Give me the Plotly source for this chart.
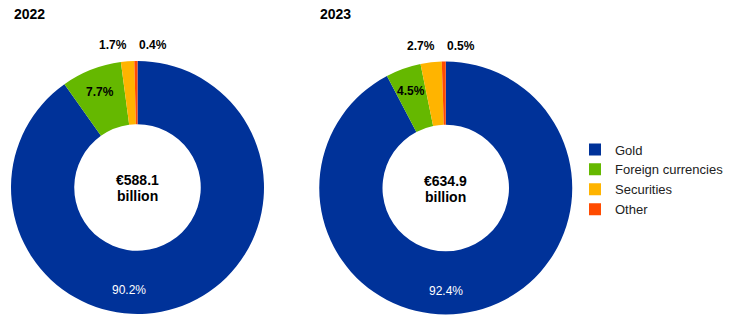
import math
import plotly.graph_objects as go

categories = ["Gold", "Foreign currencies", "Securities", "Other"]
values_2022 = [90.2, 7.7, 1.7, 0.4]
values_2023 = [92.4, 4.5, 2.7, 0.5]
years = ["2022", "2023"]
total_values = ["€588.1", "€634.9"]
total_unit = "billion"
colors = ["#003299", "#65B800", "#FFB400", "#FF4B00"]

W, H = 743, 322
FONT = "Liberation Sans, Arial, sans-serif"

# layout (pixels)
centers = [(137.5, 187.5), (445.75, 188.0)]
R_OUT = 126.5
R_LABEL = 102.5
gold_label_angle = [185.0, 180.0]  # degrees clockwise from top

def px_x(x):
    return x / W

def px_y(y):
    return 1 - y / H

fig = go.Figure()
annotations = []
all_values = [values_2022, values_2023]
for i, vals in enumerate(all_values):
    cx, cy = centers[i]
    fig.add_trace(go.Pie(
        labels=categories,
        values=vals,
        hole=0.5,
        sort=False,
        direction="clockwise",
        rotation=0,
        marker=dict(colors=colors, line=dict(width=0)),
        textinfo="none",
        domain=dict(x=[px_x(cx - R_OUT), px_x(cx + R_OUT)],
                    y=[px_y(cy + R_OUT), px_y(cy - R_OUT)]),
        showlegend=(i == 0),
        hoverinfo="label+value",
    ))
    total = sum(vals)
    cum = 0.0
    for k, v in enumerate(vals):
        mid = (cum + v / 2) / total * 360.0
        cum += v
        txt = "%.1f%%" % v
        if k == 0:
            a = math.radians(gold_label_angle[i])
            x, y = cx + R_LABEL * math.sin(a), cy - R_LABEL * math.cos(a)
            annotations.append(dict(text=txt, x=px_x(x), y=px_y(y),
                                    xanchor="center", yanchor="middle",
                                    font=dict(family=FONT, size=12, color="white")))
        elif k == 1:
            a = math.radians(mid)
            x, y = cx + R_LABEL * math.sin(a), cy - R_LABEL * math.cos(a)
            annotations.append(dict(text="<b>%s</b>" % txt, x=px_x(x), y=px_y(y),
                                    xanchor="center", yanchor="middle",
                                    font=dict(family=FONT, size=12, color="black")))
        elif k == 2:
            annotations.append(dict(text="<b>%s</b>" % txt, x=px_x(cx - 8.5),
                                    y=px_y(cy - R_OUT - 15.5),
                                    xanchor="right", yanchor="middle",
                                    font=dict(family=FONT, size=12, color="black")))
        else:
            annotations.append(dict(text="<b>%s</b>" % txt, x=px_x(cx - 1),
                                    y=px_y(cy - R_OUT - 15.5),
                                    xanchor="left", yanchor="middle",
                                    font=dict(family=FONT, size=12, color="black")))
    # title
    annotations.append(dict(text="<b>%s</b>" % years[i], x=px_x(12 + 306 * i),
                            y=px_y(14), xanchor="left", yanchor="middle",
                            font=dict(family=FONT, size=14, color="black")))
    # centre total
    annotations.append(dict(text="<b>%s</b>" % total_values[i], x=px_x(cx),
                            y=px_y(cy - 7.5), xanchor="center", yanchor="middle",
                            font=dict(family=FONT, size=14, color="black")))
    annotations.append(dict(text="<b>%s</b>" % total_unit, x=px_x(cx),
                            y=px_y(cy + 8.5), xanchor="center", yanchor="middle",
                            font=dict(family=FONT, size=14, color="black")))

for a in annotations:
    a.update(xref="paper", yref="paper", showarrow=False)

fig.update_layout(
    width=W, height=H,
    margin=dict(l=0, r=0, t=0, b=0),
    paper_bgcolor="white", plot_bgcolor="white",
    font=dict(family=FONT, size=12, color="#222222"),
    legend=dict(x=px_x(575), y=px_y(179.5), xanchor="left", yanchor="middle",
                font=dict(family=FONT, size=13, color="#222222"),
                itemsizing="constant", tracegroupgap=0),
    annotations=annotations,
)

fig.write_html("out.html")
